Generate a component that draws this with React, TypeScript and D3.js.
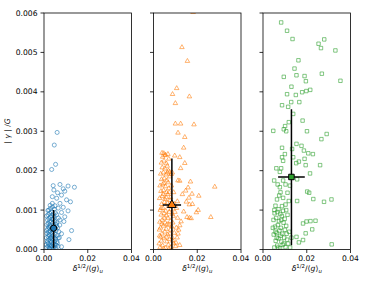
import React from 'react'
import * as d3 from 'd3'

const W = 390
const H = 287

const xTicks = [0, 0.02, 0.04]
const xTickLabels = ['0.00', '0.02', '0.04']
const yTicks = [0, 0.001, 0.002, 0.003, 0.004, 0.005, 0.006]
const yTickLabels = ['0.000', '0.001', '0.002', '0.003', '0.004', '0.005', '0.006']

// scatter points as [x, y], both in units of 1e-3
const bluePoints: [number, number][] = [
  [6.0, 2.97], [4.7, 2.65], [5.3, 2.16], [3.5, 2.03], [7.3, 1.65], [4.2, 1.62], [11.0, 1.61],
  [13.9, 1.58], [8.8, 1.54], [4.5, 1.51], [6.2, 1.44], [9.5, 1.48], [8.0, 1.38], [3.8, 1.34],
  [5.8, 1.3], [10.3, 1.26], [12.1, 1.21], [7.3, 1.17], [3.8, 1.17], [5.0, 1.11], [8.8, 1.07],
  [6.5, 1.05], [11.0, 0.98], [8.0, 0.94], [5.8, 0.88], [9.5, 0.83], [7.3, 0.75], [9.1, 0.71],
  [5.8, 0.6], [12.6, 0.48], [8.0, 0.4], [11.4, 0.25], [6.5, 0.29], [8.0, 0.07], [6.1, 0.16],
  [1.2, 0.05], [1.8, 0.08], [2.4, 0.03], [3.1, 0.06], [3.8, 0.02], [4.5, 0.07], [5.2, 0.04],
  [2.0, 0.15], [2.7, 0.12], [3.4, 0.18], [4.1, 0.14], [1.5, 0.22], [2.2, 0.25], [2.9, 0.21],
  [3.6, 0.27], [4.8, 0.2], [5.6, 0.11], [1.1, 0.3], [1.9, 0.33], [2.6, 0.36], [3.3, 0.31],
  [4.0, 0.35], [4.6, 0.3], [5.3, 0.26], [1.4, 0.41], [2.1, 0.44], [2.8, 0.47], [3.5, 0.42],
  [4.3, 0.45], [5.0, 0.39], [6.0, 0.35], [1.7, 0.52], [2.4, 0.55], [3.0, 0.58], [3.7, 0.5],
  [4.4, 0.6], [5.5, 0.48], [1.3, 0.63], [2.0, 0.66], [2.7, 0.62], [3.3, 0.7], [4.0, 0.67],
  [4.9, 0.72], [1.6, 0.75], [2.3, 0.78], [3.0, 0.82], [3.8, 0.77], [4.6, 0.84], [5.8, 0.68],
  [1.9, 0.88], [2.6, 0.92], [3.4, 0.95], [4.2, 0.9], [5.2, 0.93], [2.2, 1.0], [3.0, 1.04],
  [3.9, 1.08], [4.7, 1.02], [2.8, 1.12], [6.2, 0.55], [6.8, 0.45], [5.9, 0.2], [6.4, 0.08],
  [7.0, 0.3], [1.0, 0.12], [1.3, 0.48], [2.5, 0.02], [3.2, 0.1], [3.9, 0.24], [4.4, 0.02],
  [2.3, 0.38], [2.9, 0.29], [1.6, 0.18], [3.6, 0.09], [2.1, 0.58], [4.8, 0.55], [5.4, 0.64],
  [1.8, 0.99], [3.5, 0.86], [4.4, 0.78], [2.6, 0.72], [1.2, 0.85], [6.6, 0.8], [7.2, 0.62],
  [5.0, 0.13], [4.0, 0.5],
]

const orangePoints: [number, number][] = [
  [18.1, 6.02], [13.0, 5.13], [15.5, 4.78], [10.6, 4.09], [8.7, 3.94], [16.4, 3.88], [10.0, 3.71],
  [10.0, 3.19], [12.4, 3.19], [18.5, 3.17], [11.2, 2.96], [14.3, 2.85], [13.8, 2.58], [4.7, 2.44],
  [5.2, 2.39], [9.7, 2.38], [12.0, 2.34], [14.3, 2.19], [12.4, 2.06], [7.4, 1.97], [8.1, 1.91],
  [11.2, 1.75], [12.0, 1.74], [16.9, 1.72], [28.0, 1.59], [15.8, 1.57], [14.7, 1.49], [17.6, 1.41],
  [13.2, 1.4], [20.7, 1.36], [16.2, 1.31], [15.0, 1.21], [10.9, 1.22], [17.8, 1.15], [16.4, 1.14],
  [13.8, 0.96], [20.4, 1.0], [19.6, 0.94], [26.2, 0.82], [16.4, 0.8], [17.2, 0.79], [15.3, 0.82],
  [12.6, 0.71], [12.0, 0.61], [11.2, 0.4], [10.3, 0.17], [12.0, 0.11],
  [3.0, 0.05], [4.2, 0.1], [5.5, 0.04], [6.8, 0.12], [8.0, 0.06], [9.2, 0.15], [3.6, 0.22],
  [4.9, 0.28], [6.1, 0.2], [7.4, 0.26], [8.6, 0.3], [2.8, 0.35], [3.9, 0.4], [5.2, 0.45],
  [6.5, 0.38], [7.8, 0.5], [9.5, 0.42], [3.2, 0.55], [4.5, 0.6], [5.8, 0.52], [7.0, 0.62],
  [8.3, 0.58], [10.4, 0.55], [2.9, 0.7], [4.0, 0.75], [5.3, 0.68], [6.6, 0.8], [7.7, 0.72],
  [9.0, 0.85], [3.5, 0.88], [4.8, 0.92], [6.0, 0.86], [7.2, 0.95], [8.5, 0.9], [11.0, 0.8],
  [3.1, 1.0], [4.3, 1.05], [5.6, 0.98], [6.9, 1.1], [8.0, 1.02], [9.6, 1.15], [3.7, 1.15],
  [5.0, 1.2], [6.3, 1.18], [7.6, 1.25], [10.5, 1.05], [2.8, 1.3], [4.0, 1.35], [5.2, 1.28],
  [6.5, 1.4], [7.8, 1.32], [9.2, 1.45], [3.4, 1.48], [4.6, 1.5], [5.9, 1.45], [7.0, 1.55],
  [3.0, 1.62], [4.2, 1.65], [5.5, 1.6], [6.7, 1.7], [8.2, 1.62], [3.7, 1.78], [4.9, 1.8],
  [6.1, 1.75], [7.4, 1.85], [3.3, 1.92], [4.5, 1.95], [5.7, 1.9], [6.8, 2.0], [8.6, 1.95],
  [4.0, 2.08], [5.2, 2.05], [6.3, 2.12], [3.6, 2.2], [4.8, 2.25], [5.9, 2.18], [7.0, 2.3],
  [4.2, 2.35], [5.5, 2.4], [3.9, 2.45], [6.6, 2.42], [2.6, 0.15], [3.3, 0.32], [4.6, 0.02],
  [5.9, 0.32], [7.1, 0.02], [8.8, 0.22], [10.1, 0.08], [2.7, 0.5], [3.8, 0.65], [5.0, 0.8],
  [6.2, 0.64], [7.5, 0.4], [4.4, 1.4], [5.8, 1.32], [3.5, 1.05], [4.7, 1.68], [8.8, 0.68],
  [9.8, 0.95], [10.8, 0.3], [11.5, 0.5], [6.4, 1.95], [7.2, 1.45],
]

const greenPoints: [number, number][] = [
  [8.3, 5.76], [11.0, 5.55], [13.5, 5.34], [25.4, 5.22], [28.0, 5.33], [26.5, 5.11], [33.1, 5.05],
  [16.2, 4.8], [14.4, 4.59], [15.3, 4.42], [9.5, 4.38], [19.0, 4.4], [19.6, 4.27], [26.9, 4.46],
  [35.4, 4.28], [13.0, 4.13], [11.0, 3.94], [15.0, 3.92], [17.9, 3.99], [19.8, 4.02], [21.6, 4.05],
  [12.9, 3.74], [16.6, 3.74], [8.7, 3.66], [11.5, 3.62], [13.8, 3.44], [11.8, 3.23], [18.1, 3.27],
  [10.1, 3.13], [4.7, 3.01], [9.5, 3.05], [10.6, 3.0], [20.1, 3.0], [29.1, 2.93], [26.7, 2.8],
  [8.7, 2.58], [15.3, 2.68], [17.6, 2.63], [13.3, 2.55], [18.7, 2.51], [20.7, 2.44], [22.8, 2.42],
  [10.0, 2.42], [8.7, 2.34], [13.8, 2.34], [19.0, 2.3], [16.4, 2.23], [9.2, 2.25], [26.1, 2.14],
  [15.2, 2.19], [19.5, 2.14], [6.1, 2.06], [8.3, 2.06], [7.7, 1.97], [21.5, 1.93], [5.1, 1.75],
  [9.2, 1.75], [15.6, 1.78], [6.7, 1.65], [10.3, 1.65], [7.7, 1.58], [12.3, 1.62], [20.2, 1.47],
  [11.2, 1.44], [8.0, 1.45], [7.4, 1.37], [9.2, 1.31], [21.1, 1.44], [23.0, 1.28], [27.9, 1.21],
  [31.3, 1.27], [6.4, 1.27], [11.8, 1.23], [15.6, 1.23], [5.7, 1.11], [8.7, 1.1], [10.3, 1.14],
  [5.2, 1.0], [7.1, 1.02], [10.6, 1.0], [24.0, 0.73], [21.7, 0.72], [19.9, 0.71], [18.3, 0.66],
  [22.5, 0.51], [19.5, 0.41], [15.3, 0.32], [18.3, 0.24], [31.4, 0.13], [16.4, 0.18],
  [5.2, 0.05], [6.5, 0.1], [7.8, 0.03], [9.0, 0.12], [10.3, 0.06], [11.5, 0.15], [5.8, 0.22],
  [7.1, 0.28], [8.4, 0.2], [9.7, 0.3], [11.0, 0.25], [4.9, 0.38], [6.2, 0.42], [7.5, 0.48],
  [8.8, 0.4], [10.0, 0.5], [12.0, 0.45], [5.5, 0.58], [6.8, 0.62], [8.1, 0.55], [9.4, 0.68],
  [10.6, 0.6], [4.8, 0.75], [6.0, 0.8], [7.3, 0.72], [8.6, 0.85], [9.9, 0.78], [5.3, 0.92],
  [6.6, 0.95], [7.9, 0.9], [9.2, 0.98], [11.2, 0.88], [6.3, 0.3], [8.0, 0.35], [9.5, 0.15],
  [10.8, 0.4], [7.0, 0.05], [12.4, 0.05], [13.0, 0.3], [5.7, 0.45], [4.5, 0.55], [8.3, 0.75],
]

// mean and error bars per panel (units of 1e-3)
const meanX = [4.4, 8.4, 13.0]
const meanY = [0.54, 1.13, 1.84]
const xErr = [1.7, 4.2, 6.1]
const yLow = [0.03, 0.0, 0.11]
const yHigh = [1.0, 2.31, 3.56]

const colors = ['#1f77b4', '#ff7f0e', '#2ca02c']
const series = [bluePoints, orangePoints, greenPoints]
const panelLeft = [44, 153.5, 263]
const panelWidth = 87.5
const top = 13
const bottom = 249.5

const font = 'DejaVu Sans, sans-serif'

function Marker({ kind, x, y, color, fill, size, stroke, sw, opacity }: any) {
  if (kind === 0) {
    return <circle cx={x} cy={y} r={Math.sqrt(size / Math.PI)} fill={fill} stroke={stroke ?? color} strokeWidth={sw} opacity={opacity} />
  }
  const type = kind === 1 ? d3.symbolTriangle : d3.symbolSquare
  const d = d3.symbol().type(type).size(size)() as string
  return <path d={d} transform={`translate(${x},${y})`} fill={fill} stroke={stroke ?? color} strokeWidth={sw} opacity={opacity} />
}

function Panel({ i }: { i: number }) {
  const x = d3.scaleLinear().domain([0, 0.04]).range([panelLeft[i], panelLeft[i] + panelWidth])
  const y = d3.scaleLinear().domain([0, 0.006]).range([bottom, top])
  const color = colors[i]
  const size = i === 0 ? 13 : i === 1 ? 9 : 12
  const cx = x(meanX[i] / 1000)
  const cy = y(meanY[i] / 1000)
  return (
    <g>
      <defs>
        <clipPath id={`clip${i}`}>
          <rect x={panelLeft[i]} y={top} width={panelWidth} height={bottom - top} />
        </clipPath>
      </defs>
      <g clipPath={`url(#clip${i})`}>
        {series[i].map((p, k) => (
          <Marker key={k} kind={i} x={x(p[0] / 1000)} y={y(p[1] / 1000)} color={color} fill="none" size={size} sw={0.9} opacity={0.65} />
        ))}
        <line x1={cx} x2={cx} y1={y(yLow[i] / 1000)} y2={y(yHigh[i] / 1000)} stroke="#000" strokeWidth={1.5} />
        <line x1={x((meanX[i] - xErr[i]) / 1000)} x2={x((meanX[i] + xErr[i]) / 1000)} y1={cy} y2={cy} stroke="#000" strokeWidth={1.5} />
        <Marker kind={i} x={cx} y={cy} color={color} fill={color} stroke="#000" size={i === 1 ? 34 : 30} sw={1} opacity={1} />
      </g>
      <rect x={panelLeft[i]} y={top} width={panelWidth} height={bottom - top} fill="none" stroke="#000" strokeWidth={0.8} />
      {yTicks.map((t, k) => (
        <g key={k}>
          <line x1={panelLeft[i] - 3.5} x2={panelLeft[i]} y1={y(t)} y2={y(t)} stroke="#000" strokeWidth={0.8} />
          {i === 0 && (
            <text x={panelLeft[i] - 6.5} y={y(t)} dy="0.35em" textAnchor="end" fontSize={7.6} fontFamily={font}>
              {yTickLabels[k]}
            </text>
          )}
        </g>
      ))}
      {xTicks.map((t, k) => (
        <g key={k}>
          <line x1={x(t)} x2={x(t)} y1={bottom} y2={bottom + 3.5} stroke="#000" strokeWidth={0.8} />
          <text x={x(t)} y={bottom + 11.5} textAnchor="middle" fontSize={7.6} fontFamily={font}>
            {xTickLabels[k]}
          </text>
        </g>
      ))}
      <text x={panelLeft[i] + panelWidth / 2} y={271} textAnchor="middle" fontSize={7.6} fontFamily={font}>
        <tspan fontStyle="italic">δ</tspan>
        <tspan fontSize={5.4} dy={-3.5}>1/2</tspan>
        <tspan dy={3.5}>/⟨</tspan>
        <tspan fontStyle="italic">g</tspan>
        <tspan>⟩</tspan>
        <tspan fontSize={5.4} dy={2} fontStyle="italic">u</tspan>
      </text>
    </g>
  )
}

export default function App() {
  return (
    <svg width={W} height={H} style={{ position: 'absolute', left: 0, top: 0, background: '#fff' }}>
      <rect width={W} height={H} fill="#fff" />
      {[0, 1, 2].map((i) => (
        <Panel key={i} i={i} />
      ))}
      <text transform={`translate(10,131) rotate(-90)`} textAnchor="middle" fontSize={7.6} fontFamily={font}>
        <tspan>| </tspan>
        <tspan fontStyle="italic">γ</tspan>
        <tspan> | /</tspan>
        <tspan fontStyle="italic">G</tspan>
      </text>
    </svg>
  )
}
